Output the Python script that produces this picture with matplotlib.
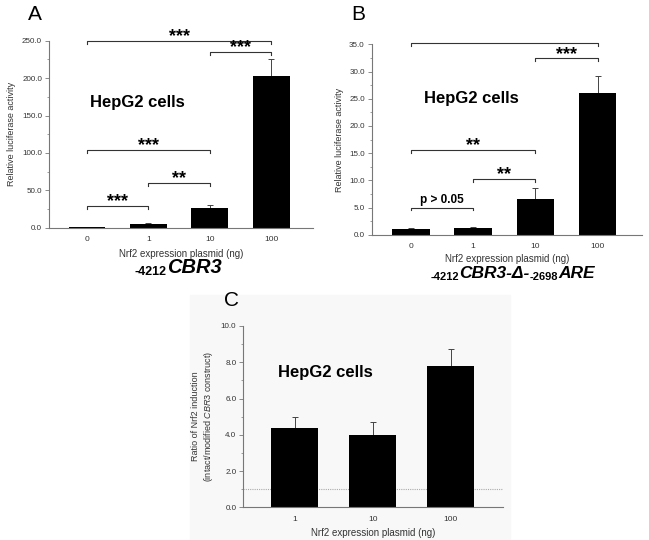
import matplotlib.pyplot as plt
import matplotlib.patches as mpatches
from matplotlib.ticker import MultipleLocator, FormatStrFormatter

plt.rcParams['font.family'] = ['Liberation Sans', 'DejaVu Sans']
plt.rcParams['mathtext.fontset'] = 'custom'
plt.rcParams['mathtext.rm'] = 'Liberation Sans'
plt.rcParams['mathtext.it'] = 'Liberation Sans:italic'

# data
doses_ab = ['0', '1', '10', '100']
a_mean = [1.0, 5.5, 26.5, 203.0]
a_err = [0.3, 1.0, 4.5, 23.0]
b_mean = [1.0, 1.3, 6.6, 26.0]
b_err = [0.3, 0.2, 1.9, 3.2]
doses_c = ['1', '10', '100']
c_mean = [4.35, 4.0, 7.82]
c_err = [0.62, 0.68, 0.9]

# significance brackets: (from, to, height, label)
a_sig = [(0, 3, 250, '***'), (2, 3, 235, '***'), (0, 2, 104, '***'),
         (1, 2, 60, '**'), (0, 1, 29, '***')]
b_sig = [(0, 3, 35.3, '***'), (2, 3, 32.4, '***'), (0, 2, 15.5, '**'),
         (1, 2, 10.2, '**'), (0, 1, 5.0, 'p > 0.05')]

W, H = 649, 540
fig = plt.figure(figsize=(W / 100, H / 100), dpi=100)

def px(x, y):
    return x / W, 1 - y / H

# faint backdrop behind panel C
fig.patches.append(mpatches.Rectangle(px(190, 540), 320 / W, 245 / H,
                                      transform=fig.transFigure,
                                      color='#f8f8f8', zorder=-5))

def make_axes(l, t, r, b):
    x0, y1 = px(l, t)
    x1, y0 = px(r, b)
    ax = fig.add_axes([x0, y0, x1 - x0, y1 - y0])
    ax.set_zorder(2)
    return ax

def style(ax, major, fmt):
    for s in ['top', 'right']:
        ax.spines[s].set_visible(False)
    for s in ['left', 'bottom']:
        ax.spines[s].set_color('#777777')
        ax.spines[s].set_linewidth(0.8)
    ax.set_facecolor('none')
    ax.yaxis.set_major_locator(MultipleLocator(major))
    ax.yaxis.set_minor_locator(MultipleLocator(major / 2))
    ax.yaxis.set_major_formatter(FormatStrFormatter(fmt))
    ax.tick_params(axis='y', which='major', length=3, width=0.6, colors='#777777',
                   labelcolor='#333333', labelsize=5.8, pad=2)
    ax.tick_params(axis='y', which='minor', length=1.5, width=0.5, colors='#777777')
    ax.tick_params(axis='x', length=0, labelsize=6, labelcolor='#333333', pad=6)

def bars(ax, labels, mean, err, width):
    x = list(range(len(labels)))
    ax.bar(x, mean, width=width, color='black', zorder=2)
    ax.errorbar(x, mean, yerr=[[0] * len(err), err], fmt='none', ecolor='#444444',
                elinewidth=0.7, capsize=2.5, capthick=0.7, zorder=1)
    ax.set_xticks(x)
    ax.set_xticklabels(labels)

def brackets(ax, sig, drop):
    for i, j, h, lab in sig:
        ax.plot([i, i, j, j], [h - drop, h, h, h - drop], color='#333333', lw=0.8,
                clip_on=False)
        if lab.startswith('p'):
            ax.annotate(lab, (0.5 * (i + j), h), xytext=(0, 0.8), textcoords='offset points',
                        ha='center', va='bottom', fontsize=8.5, fontweight='bold')
        else:
            ax.annotate(lab, (0.5 * (i + j), h), xytext=(0, -3), textcoords='offset points',
                        ha='center', va='bottom', fontsize=13, fontweight='bold')

def labels(ax, ylab, pad=4):
    ax.set_ylabel(ylab, fontsize=6.5, color='#333333', labelpad=4)
    ax.set_xlabel('Nrf2 expression plasmid (ng)', fontsize=7, color='#333333', labelpad=pad)

# panel A
axA = make_axes(49, 40.7, 313, 227.7)
bars(axA, doses_ab, a_mean, a_err, 0.6)
axA.set_xlim(-0.62, 3.68)
axA.set_ylim(0, 250)
style(axA, 50, '%.1f')
brackets(axA, a_sig, 4)
labels(axA, 'Relative luciferase activity')

# panel B
axB = make_axes(371.7, 44.3, 641.7, 234.7)
bars(axB, doses_ab, b_mean, b_err, 0.6)
axB.set_xlim(-0.63, 3.71)
axB.set_ylim(0, 35)
style(axB, 5, '%.1f')
brackets(axB, b_sig, 0.55)
labels(axB, 'Relative luciferase activity', pad=3)

# panel C
axC = make_axes(243.3, 326, 503, 507.3)
bars(axC, doses_c, c_mean, c_err, 0.6)
axC.set_xlim(-0.66, 2.67)
axC.set_ylim(0, 10)
style(axC, 2, '%.1f')
axC.axhline(1.0, color='#aaaaaa', lw=0.8, ls=(0, (1, 1)), zorder=0)
labels(axC, 'Ratio of Nrf2 induction\n(intact/modified $\\mathit{CBR3}$ construct)')

# in-plot labels
for x, y in [(137.5, 102), (471.5, 98), (325, 373)]:
    fig.text(*px(x, y), 'HepG2 cells', ha='center', va='center', fontsize=12,
             fontweight='bold')

# construct names: pieces of (text, size, italic, drop in px)
renderer = fig.canvas.get_renderer()

def rich(xc, ybase, parts):
    texts = []
    for s, size, ital, drop in parts:
        t = fig.text(0, 0, s, fontsize=size, fontweight='bold',
                     fontstyle='italic' if ital else 'normal', va='baseline', ha='left')
        texts.append((t, drop))
    widths = [t.get_window_extent(renderer).width for t, _ in texts]
    x = xc - sum(widths) / 2
    for (t, drop), w in zip(texts, widths):
        t.set_position(px(x, ybase + drop))
        x += w

rich(178, 273, [('-4212', 9, False, 2), ('CBR3', 14.5, True, 0)])
rich(513, 278, [('-4212', 8, False, 2), ('CBR3-\u0394-', 12.5, True, 0),
                ('-2698', 8, False, 2), ('ARE', 12.5, True, 0)])

for lab, x, y in [('A', 35, 15), ('B', 358, 15), ('C', 232, 300)]:
    fig.text(*px(x, y), lab, ha='center', va='center', fontsize=15)

fig.savefig('out.png', dpi=100)
